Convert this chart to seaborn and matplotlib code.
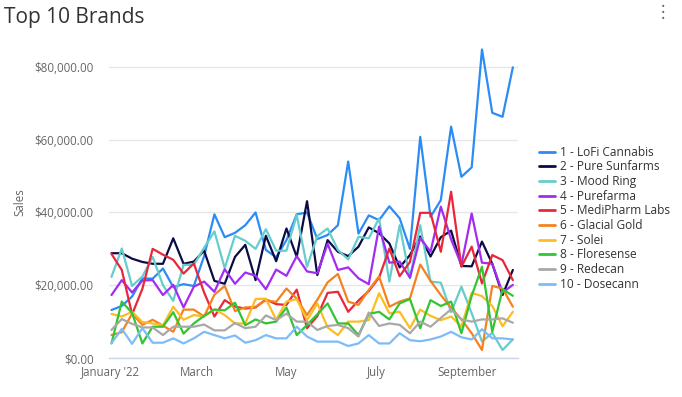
import numpy as np
import pandas as pd
import seaborn as sns
import matplotlib
matplotlib.use("Agg")
import matplotlib.pyplot as plt
import matplotlib.dates as mdates
from matplotlib.ticker import FuncFormatter

# weekly sales, in thousands of dollars
weeks = pd.date_range("2022-01-02", periods=40, freq="7D")

brands = ["1 - LoFi Cannabis", "2 - Pure Sunfarms", "3 - Mood Ring", "4 - Purefarma",
          "5 - MediPharm Labs", "6 - Glacial Gold", "7 - Solei", "8 - Floresense",
          "9 - Redecan", "10 - Dosecann"]

lofi = [13.2, 14.3, 16.9, 21.9, 21.8, 24.6, 19.5, 20.3, 19.8, 28.0, 39.5, 33.2, 34.4, 36.5,
        40.0, 29.7, 27.7, 32.4, 39.5, 40.0, 32.7, 33.8, 36.5, 54.0, 34.2, 39.2, 37.9, 41.7,
        38.4, 30.0, 60.8, 38.8, 43.4, 63.6, 49.8, 52.4, 84.8, 67.4, 66.3, 79.9]
pure_sunfarms = [28.8, 28.8, 27.3, 26.4, 25.9, 25.9, 32.9, 25.9, 26.5, 29.5, 21.2, 20.4, 27.8,
                 31.1, 21.4, 33.6, 26.6, 35.6, 27.8, 43.1, 22.8, 32.4, 29.2, 28.0, 30.6, 35.9,
                 34.3, 31.5, 24.9, 28.3, 33.4, 27.9, 33.2, 35.0, 25.3, 25.2, 32.0, 25.9, 17.3, 24.2]
mood_ring = [22.3, 30.1, 19.8, 22.4, 27.8, 20.0, 15.7, 25.6, 25.6, 30.3, 34.8, 24.7, 33.6, 32.2,
             30.0, 35.4, 29.5, 29.5, 39.3, 25.1, 33.5, 35.6, 29.7, 27.1, 33.3, 32.9, 38.4, 21.0,
             36.5, 21.9, 36.5, 21.0, 20.7, 12.6, 19.6, 12.3, 4.5, 6.9, 2.2, 5.1]
purefarma = [17.3, 21.4, 18.0, 21.3, 21.4, 17.3, 20.1, 13.9, 19.6, 21.0, 18.2, 24.4, 20.4, 23.5,
             22.6, 18.9, 24.3, 22.6, 28.0, 23.8, 23.3, 31.4, 24.2, 24.9, 21.9, 20.3, 36.1, 26.2,
             26.5, 22.1, 33.0, 29.2, 41.6, 32.6, 25.6, 39.7, 26.2, 25.9, 18.0, 20.1]
medipharm = [28.6, 24.2, 12.0, 19.0, 30.0, 28.4, 27.0, 23.2, 26.0, 18.0, 11.4, 15.9, 14.1, 13.6,
             13.9, 16.1, 14.8, 14.6, 18.8, 8.2, 11.5, 17.9, 18.2, 12.7, 15.8, 18.4, 22.1, 30.1,
             22.5, 26.4, 39.9, 39.9, 29.2, 45.7, 25.1, 30.6, 20.5, 28.3, 26.9, 21.4]
glacial_gold = [6.3, 7.1, 12.2, 9.1, 10.5, 8.9, 7.2, 13.3, 13.3, 11.4, 17.4, 19.8, 12.9, 13.9,
                14.1, 15.9, 15.4, 19.1, 16.3, 11.8, 16.0, 20.8, 23.1, 15.5, 14.6, 18.7, 22.4, 14.1,
                15.5, 16.4, 25.7, 21.2, 17.3, 13.8, 10.6, 6.8, 2.2, 19.8, 19.1, 14.1]
solei = [12.1, 11.4, 12.7, 9.9, 9.5, 9.0, 14.1, 10.5, 11.8, 11.4, 13.4, 11.8, 9.5, 9.5, 16.2,
         16.3, 10.5, 15.5, 16.2, 10.4, 15.0, 8.4, 6.3, 10.0, 10.0, 10.4, 17.8, 12.3, 12.7, 8.2,
         13.3, 11.6, 10.4, 11.4, 8.6, 17.9, 17.0, 14.3, 8.7, 12.7]
floresense = [4.0, 15.5, 12.4, 4.0, 8.6, 8.6, 12.6, 6.7, 9.5, 11.6, 13.3, 13.1, 15.2, 9.0, 10.6,
              9.5, 10.0, 13.9, 6.3, 9.1, 12.0, 15.0, 9.5, 9.5, 6.3, 12.1, 12.7, 10.6, 15.0, 16.2,
              8.2, 15.9, 14.3, 15.5, 6.8, 17.1, 25.1, 7.2, 18.9, 17.1]
redecan = [7.7, 10.7, 9.4, 8.4, 8.4, 6.3, 8.6, 8.6, 8.6, 9.2, 7.6, 7.6, 9.6, 8.2, 8.6, 11.7,
           10.4, 12.2, 10.0, 10.0, 7.7, 8.8, 9.1, 8.2, 5.9, 12.5, 8.8, 9.5, 9.1, 6.8, 10.0, 8.6,
           11.0, 13.4, 10.6, 10.0, 10.6, 10.6, 10.9, 9.7]
dosecann = [4.1, 8.0, 3.9, 8.2, 4.2, 4.2, 5.4, 4.0, 5.4, 7.2, 6.3, 5.4, 6.2, 4.2, 4.9, 6.3, 5.4,
            5.4, 8.6, 5.9, 4.5, 4.5, 4.5, 3.3, 4.0, 6.3, 4.0, 4.0, 6.8, 4.9, 4.6, 5.1, 5.9, 7.2,
            5.7, 5.1, 7.9, 5.4, 5.4, 5.1]

colors = ["#2b8cf5", "#0b0b45", "#66cccc", "#a12cf2", "#e8283a",
          "#f5821f", "#fbbd23", "#33c433", "#a8a8a8", "#7dbcf8"]

series = [lofi, pure_sunfarms, mood_ring, purefarma, medipharm,
          glacial_gold, solei, floresense, redecan, dosecann]

df = pd.DataFrame({
    "week": np.tile(weeks, len(brands)),
    "brand": np.repeat(brands, len(weeks)),
    "sales": np.concatenate(series) * 1000,
})

sns.set_style("white")
plt.rcParams["font.family"] = ["Open Sans", "DejaVu Sans"]

fig = plt.figure(figsize=(6.82, 3.97), dpi=100)
ax = fig.add_axes([109 / 682, 39 / 397, 409 / 682, 316.5 / 397])

sns.lineplot(data=df, x="week", y="sales", hue="brand", palette=colors,
             estimator=None, linewidth=1.6, ax=ax)

x0 = mdates.date2num(pd.Timestamp("2022-01-01")) - 0.7
ax.set_xlim(x0, x0 + 278.2)
ax.set_ylim(0, 87000)

ax.set_yticks([0, 20000, 40000, 60000, 80000])
ax.yaxis.set_major_formatter(FuncFormatter(lambda v, p: "${:,.2f}".format(v)))
ticks = pd.to_datetime(["2022-01-01", "2022-03-01", "2022-05-01", "2022-07-01", "2022-09-01"])
ax.set_xticks(mdates.date2num(ticks))
ax.set_xticklabels(["January '22", "March", "May", "July", "September"])

ax.tick_params(axis="both", length=0, labelsize=8.3, labelcolor="#666666")
ax.tick_params(axis="y", pad=11)
ax.tick_params(axis="x", pad=6)
ax.grid(axis="y", color="#e6e6e6", linewidth=1)
ax.grid(axis="x", visible=False)
for s in ["top", "right", "left"]:
    ax.spines[s].set_visible(False)
ax.spines["bottom"].set_color("#ccd6eb")
ax.spines["bottom"].set_linewidth(1)

ax.set_xlabel("")
ax.set_ylabel("")
fig.text(20 / 682, 1 - 202 / 397, "Sales", rotation=90, ha="center", va="center",
         fontsize=8.3, color="#666666")

fig.text(4 / 682, 1 - 18 / 397, "Top 10 Brands", ha="left", va="center",
         fontsize=15, color="#333333")
fig.text(663 / 682, 1 - 12 / 397, "\u22ee", ha="center", va="center",
         fontsize=12, color="#666666", family="DejaVu Sans")

leg = ax.legend(loc="upper left", bbox_to_anchor=(534 / 682, 1 - 141 / 397),
                bbox_transform=fig.transFigure, frameon=False, fontsize=8.6,
                handlelength=1.35, handletextpad=0.45, labelspacing=0.14,
                borderaxespad=0)
for t in leg.get_texts():
    t.set_color("#333333")
for h in leg.get_lines():
    h.set_linewidth(2)

fig.savefig("out.png", dpi=100)
